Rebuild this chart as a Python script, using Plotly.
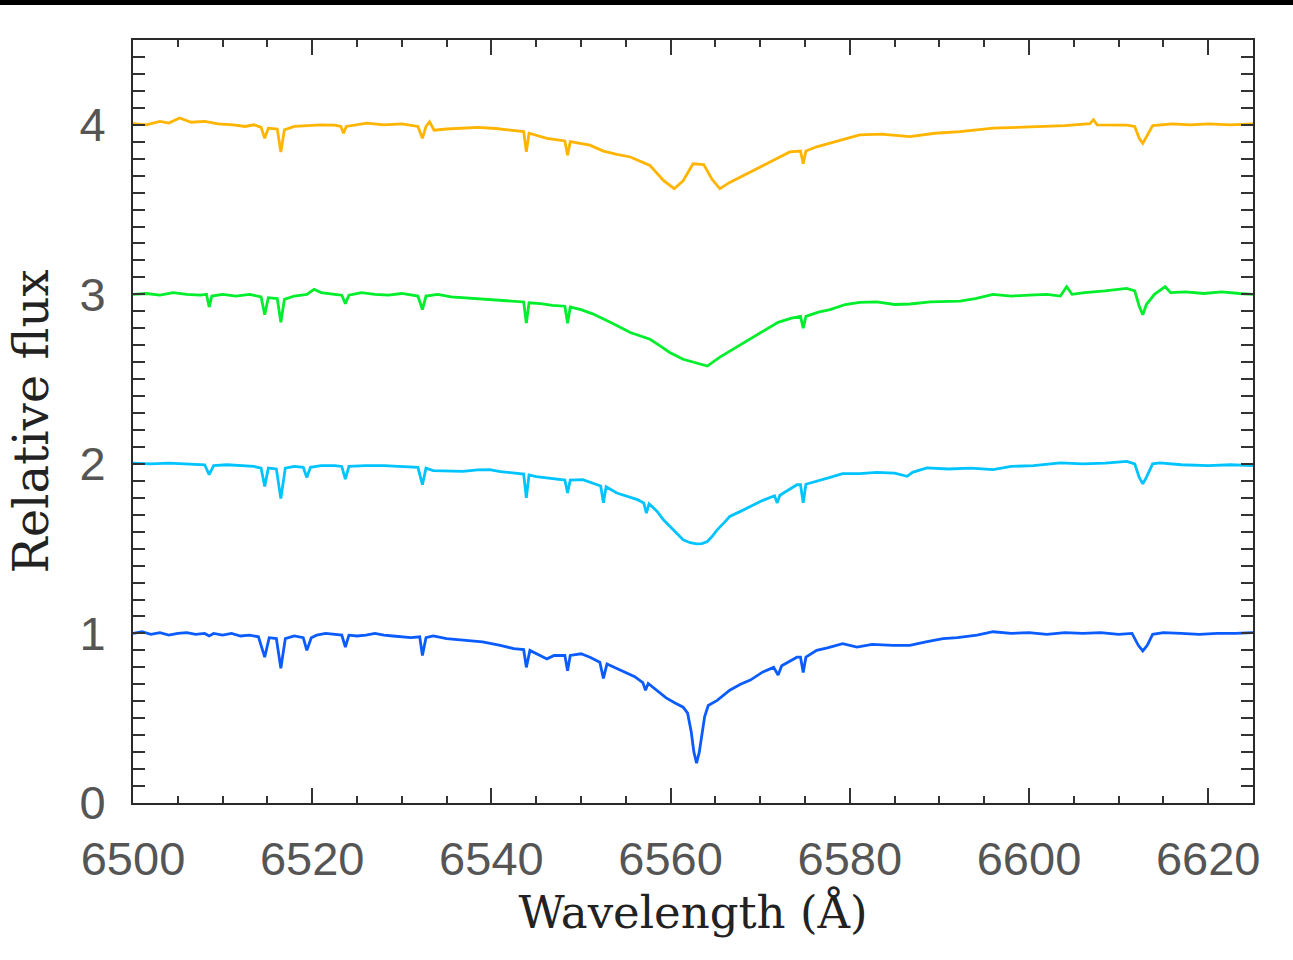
import plotly.graph_objects as go

# ---------------- data (normalized flux) ----------------
offsets = [0, 1, 2, 3]
colors = ["#0A5CFF", "#00C4FF", "#00EE2C", "#FFB400"]

wl_blue = [6500, 6501, 6502, 6503, 6504, 6505, 6506, 6507, 6508, 6508.5, 6509, 6510, 6511, 6512, 6513, 6514,
           6514.7, 6515.2, 6516, 6516.5, 6517, 6518, 6519, 6519.4, 6519.9, 6520.5, 6521.5, 6522.5, 6523.3,
           6523.7, 6524.1, 6525, 6526, 6527, 6528, 6529, 6530, 6531, 6532, 6532.3, 6532.7, 6533.5, 6535,
           6536, 6537.5, 6539, 6541, 6542.5, 6543.6, 6543.9, 6544.3, 6545, 6546.2, 6547, 6548.2, 6548.5,
           6548.8, 6550, 6551, 6552.1, 6552.5, 6552.9, 6554, 6555, 6556, 6556.9, 6557.2, 6557.5, 6558.5,
           6559.5, 6560.5, 6561.4, 6561.9, 6562.3, 6562.6, 6562.9, 6563.2, 6563.5, 6563.8, 6564.2, 6565.2,
           6566.6, 6567.8, 6568.9, 6570.3, 6571.5, 6572.0, 6572.4, 6573.2, 6574.1, 6574.5, 6574.8, 6575.1,
           6576.3, 6577.5, 6579.2, 6580.8, 6582.5, 6584.8, 6586.7, 6588.5, 6590.4, 6592, 6594.2, 6596, 6598,
           6600, 6602, 6604, 6606, 6608, 6610, 6611.5, 6612.2, 6612.7, 6613.2, 6613.8, 6615, 6617, 6619,
           6621, 6623, 6625]
flux_blue = [1.00, 1.01, 0.995, 1.005, 0.99, 1.0, 1.005, 0.995, 1.0, 0.985, 1.0, 0.99, 1.0, 0.985, 0.99, 0.98,
             0.86, 0.975, 0.97, 0.795, 0.97, 0.985, 0.975, 0.90, 0.975, 0.99, 1.0, 0.995, 0.99,
             0.92, 0.99, 0.985, 0.99, 1.0, 0.99, 0.985, 0.98, 0.975, 0.98, 0.87, 0.975, 0.985, 0.97,
             0.965, 0.955, 0.95, 0.93, 0.91, 0.905, 0.80, 0.90, 0.88, 0.85, 0.87, 0.87, 0.78,
             0.87, 0.88, 0.86, 0.83, 0.735, 0.82, 0.795, 0.77, 0.745, 0.71, 0.665, 0.705, 0.66,
             0.62, 0.59, 0.565, 0.53, 0.42, 0.30, 0.235, 0.30, 0.42, 0.51, 0.575, 0.605,
             0.665, 0.70, 0.725, 0.773, 0.80, 0.755, 0.81, 0.835, 0.86, 0.86, 0.77, 0.86,
             0.90, 0.915, 0.94, 0.92, 0.935, 0.93, 0.93, 0.95, 0.97, 0.975, 0.99, 1.01, 1.0,
             1.005, 0.995, 1.005, 1.0, 1.005, 0.995, 1.0, 0.93, 0.897, 0.93, 0.995, 1.005, 1.0, 0.995,
             1.0, 1.0, 1.005]

wl_cyan = [6500, 6502, 6504, 6506, 6508, 6508.5, 6509, 6510.5, 6512, 6513.5, 6514.3, 6514.7, 6515.1, 6516,
           6516.5, 6517, 6518, 6519, 6519.4, 6519.8, 6521, 6522.5, 6523.3, 6523.7, 6524.1, 6526, 6528, 6530,
           6531.8, 6532.3, 6532.7, 6533.5, 6535, 6536.8, 6538.5, 6539.8, 6541, 6542.4, 6543.6, 6543.9,
           6544.2, 6545, 6546.2, 6547.5, 6548.2, 6548.5, 6548.8, 6550.2, 6551.8, 6552.2, 6552.5, 6552.8,
           6554, 6555.2, 6556.3, 6557.0, 6557.3, 6557.6, 6558.5, 6559.2, 6559.9, 6560.7, 6561.4, 6562.2,
           6562.9, 6563.5, 6564.1, 6564.6, 6565.2, 6566, 6566.6, 6567.8, 6568.9, 6570.3, 6571.6, 6571.9,
           6572.2, 6573.2, 6574.1, 6574.5, 6574.8, 6575.1, 6576.3, 6577.8, 6579.2, 6581.1, 6583, 6585,
           6586.4, 6587, 6588.6, 6591, 6593.5, 6596, 6598, 6600.5, 6603.5, 6606, 6608.5, 6610.9, 6611.8,
           6612.3, 6612.7, 6613.1, 6613.8, 6614.6, 6617, 6620, 6622.5, 6625]
flux_cyan = [1.005, 1.0, 1.005, 1.0, 0.995, 0.937, 0.99, 0.995, 0.99, 0.985, 0.975, 0.867, 0.975, 0.97,
             0.795, 0.975, 0.985, 0.98, 0.92, 0.98, 0.99, 0.99, 0.985, 0.91, 0.985, 0.99, 0.99, 0.985,
             0.98, 0.877, 0.975, 0.96, 0.96, 0.956, 0.965, 0.966, 0.955, 0.946, 0.94, 0.80,
             0.935, 0.925, 0.917, 0.91, 0.905, 0.828, 0.905, 0.907, 0.877, 0.87, 0.77, 0.865,
             0.828, 0.81, 0.789, 0.77, 0.71, 0.765, 0.72, 0.67, 0.631, 0.585, 0.552, 0.535,
             0.528, 0.53, 0.542, 0.57, 0.611, 0.655, 0.69, 0.72, 0.749, 0.785, 0.812, 0.77,
             0.815, 0.845, 0.877, 0.877, 0.77, 0.88, 0.897, 0.92, 0.943, 0.943, 0.95, 0.945,
             0.927, 0.95, 0.976, 0.97, 0.975, 0.966, 0.985, 0.99, 1.006, 1.0, 1.005, 1.015, 1.0,
             0.92, 0.883, 0.92, 1.0, 1.006, 0.995, 0.99, 0.995, 0.99]

wl_green = [6500, 6501.5, 6503, 6504.5, 6506, 6507.5, 6508.2, 6508.5, 6508.8, 6510, 6511.5, 6513, 6514.3,
            6514.7, 6515.1, 6516.1, 6516.5, 6516.9, 6518, 6519.4, 6520.2, 6521, 6522.5, 6523.3, 6523.7,
            6524.1, 6525.5, 6527, 6528.5, 6530, 6531.8, 6532.3, 6532.7, 6534, 6535.5, 6536.8, 6538.5,
            6540.5, 6542, 6543.6, 6543.9, 6544.2, 6545.5, 6546.8, 6548.2, 6548.5, 6548.8, 6550, 6551.3,
            6552.5, 6553.5, 6555.5, 6557.7, 6559, 6559.9, 6561.4, 6562.9, 6564.1, 6565.5, 6567.4, 6569.6,
            6572, 6573.5, 6574.5, 6574.8, 6575.1, 6576.5, 6577.8, 6579.5, 6581.1, 6583, 6585, 6586.7,
            6589, 6592.3, 6594, 6596, 6598, 6600, 6602, 6603.5, 6604.2, 6604.8, 6606.2, 6608.5, 6610.9,
            6611.8, 6612.3, 6612.7, 6613.1, 6614, 6615.2, 6615.8, 6617.5, 6619.5, 6621.5, 6623.5, 6625]
flux_green = [1.0, 1.005, 0.995, 1.01, 1.0, 0.995, 1.0, 0.925, 0.99, 1.0, 0.99, 1.0, 0.985,
              0.88, 0.98, 0.975, 0.835, 0.97, 0.99, 1.0, 1.03, 1.01, 1.0, 0.995, 0.945,
              0.995, 1.01, 1.0, 0.995, 1.005, 0.99, 0.91, 0.99, 1.0, 0.985, 0.98, 0.975,
              0.97, 0.96, 0.955, 0.83, 0.95, 0.945, 0.935, 0.93, 0.83, 0.925, 0.91, 0.885,
              0.855, 0.83, 0.775, 0.735, 0.69, 0.657, 0.617, 0.597, 0.577, 0.63, 0.69, 0.76,
              0.835, 0.86, 0.87, 0.80, 0.87, 0.895, 0.91, 0.94, 0.953, 0.955, 0.94, 0.943,
              0.955, 0.96, 0.975, 1.0, 0.99, 0.995, 1.0, 0.99, 1.045, 1.0, 1.01, 1.02, 1.035,
              1.02, 0.93, 0.88, 0.94, 1.0, 1.045, 1.01, 1.015, 1.005, 1.015, 1.005, 1.0]

wl_orange = [6500, 6501.5, 6503, 6504, 6505.2, 6506.5, 6508, 6509.5, 6511.2, 6512.5, 6513.5, 6514.3, 6514.7,
             6515.1, 6516.1, 6516.5, 6516.9, 6518, 6519.5, 6521, 6522.5, 6523.2, 6523.5, 6523.8, 6526.1,
             6528, 6530, 6531.8, 6532.3, 6532.7, 6533.1, 6533.6, 6535, 6536.8, 6538.5, 6540.5, 6542.5,
             6543.6, 6543.9, 6544.2, 6546.2, 6548.2, 6548.5, 6548.8, 6551, 6552.5, 6554, 6555.5, 6557.7,
             6559.2, 6560.4, 6561.4, 6562.5, 6563.7, 6564.6, 6565.5, 6566.6, 6568.9, 6571.1, 6573.3,
             6574.5, 6574.8, 6575.1, 6576.3, 6579.2, 6581.1, 6583.5, 6586.7, 6589.5, 6592.3, 6596, 6598.5,
             6601.6, 6604, 6606.8, 6607.2, 6607.6, 6610.9, 6611.8, 6612.3, 6612.7, 6613.1, 6613.8, 6616,
             6618, 6620, 6622.5, 6625]
flux_orange = [1.007, 1.0, 1.02, 1.01, 1.04, 1.015, 1.02, 1.005, 1.0, 0.99, 1.0, 0.985, 0.92,
               0.98, 0.975, 0.84, 0.97, 0.99, 0.995, 1.0, 0.998, 0.99, 0.95, 0.99, 1.01,
               1.0, 1.005, 0.99, 0.92, 0.99, 1.018, 0.968, 0.975, 0.978, 0.985, 0.978, 0.965,
               0.96, 0.84, 0.95, 0.92, 0.905, 0.82, 0.90, 0.88, 0.845, 0.825, 0.81, 0.76,
               0.672, 0.623, 0.67, 0.77, 0.765, 0.68, 0.623, 0.66, 0.72, 0.78, 0.84,
               0.845, 0.77, 0.845, 0.87, 0.91, 0.94, 0.945, 0.93, 0.95, 0.96, 0.98, 0.985,
               0.99, 0.995, 1.006, 1.03, 1.0, 0.998, 0.99, 0.92, 0.89, 0.93, 0.995, 1.005,
               1.0, 1.005, 1.0, 1.005]

series = [(wl_blue, flux_blue), (wl_cyan, flux_cyan), (wl_green, flux_green), (wl_orange, flux_orange)]

x_tickvals = [6500, 6520, 6540, 6560, 6580, 6600, 6620]
y_tickvals = [0, 1, 2, 3, 4]

# ---------------- figure ----------------
fig = go.Figure()
for (wl, fl), off, col in zip(series, offsets, colors):
    fig.add_trace(go.Scatter(x=wl, y=[v + off for v in fl], mode="lines",
                             line=dict(color=col, width=2.8), showlegend=False,
                             hoverinfo="skip"))

axis_common = dict(showline=True, linecolor="#2a2a2a", linewidth=2, mirror="allticks",
                   ticks="inside", tickcolor="#333", tickwidth=1.5, showgrid=False, zeroline=False,
                   tickfont=dict(family="Liberation Sans", size=47, color="#555"))

fig.update_xaxes(range=[6500, 6625], tickvals=x_tickvals, ticklen=15,
                 minor=dict(dtick=5, ticklen=7, ticks="inside", tickcolor="#333", tickwidth=1.5, showgrid=False),
                 title=dict(text="Wavelength (Å)", font=dict(family="DejaVu Serif", size=45, color="#222"),
                            standoff=12),
                 ticklabelstandoff=14, **axis_common)
fig.update_yaxes(range=[0, 4.5], tickvals=y_tickvals, ticklen=12,
                 minor=dict(dtick=0.1, ticklen=12, ticks="inside", tickcolor="#333", tickwidth=1.5, showgrid=False),
                 title=dict(text="Relative flux", font=dict(family="DejaVu Serif", size=48, color="#222"),
                            standoff=16),
                 ticklabelstandoff=16, **axis_common)

# black band along the top edge of the page
fig.add_shape(type="rect", xref="paper", yref="paper", x0=-0.2, x1=1.1, y0=1.0459, y1=1.07,
              fillcolor="black", line=dict(width=0), layer="above")

fig.update_layout(width=1293, height=960, paper_bgcolor="white", plot_bgcolor="white",
                  margin=dict(l=133, r=40, t=40, b=157), showlegend=False)

fig.write_html("out.html", config={"displayModeBar": False},
               post_script="document.body.style.margin='0px';")
